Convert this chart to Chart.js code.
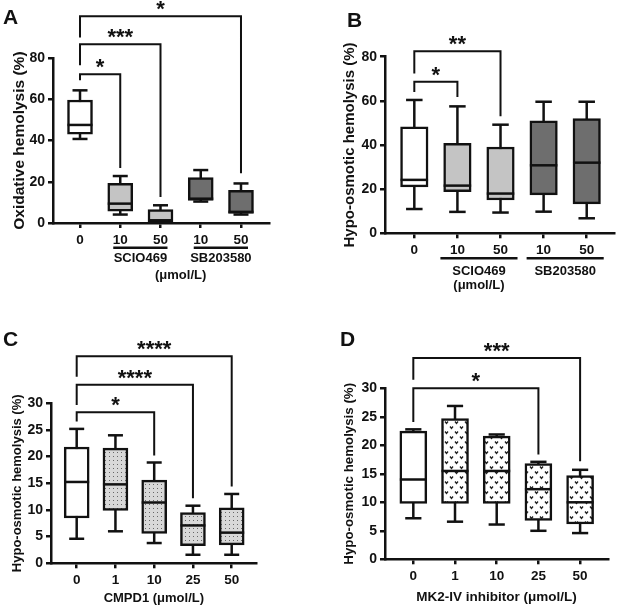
<!DOCTYPE html>
<html>
<head>
<meta charset="utf-8">
<script src="https://cdn.jsdelivr.net/npm/chart.js@4.4.1/dist/chart.umd.min.js"></script>
<style>
  body { margin: 0; background: #fff; width: 618px; height: 606px; position: relative; overflow: hidden; }
  canvas { position: absolute; }
</style>
</head>
<body>
<canvas id="cA" width="309" height="295" style="left:0;top:0"></canvas>
<canvas id="cB" width="309" height="295" style="left:309px;top:0"></canvas>
<canvas id="cC" width="309" height="311" style="left:0;top:295px"></canvas>
<canvas id="cD" width="309" height="311" style="left:309px;top:295px"></canvas>
<script>
// ---- data ----
const catsA = ['0', '10', '50', '10', '50'];
const maxA = [64.4, 22.8, 8.6, 25.7, 19.2];
const q3A = [59.7, 19.2, 6.5, 22.0, 15.9];
const medA = [47.6, 9.4, 1.3, 11.8, 5.4];
const q1A = [43.1, 5.7, 0.6, 11.0, 4.7];
const minA = [40.8, 4.1, 0.3, 10.4, 4.1];
const ticksA = [0, 20, 40, 60, 80];
const sigA = [
  { to: 1, y: 72.2, left: 69.3, right: 26.7, text: '*' },
  { to: 2, y: 86.8, left: 76.6, right: 12.6, text: '***' },
  { to: 4, y: 100.4, left: 90, right: 24.2, text: '*' }
];
const groupsA = [{ from: 1, to: 2, text: 'SCIO469' }, { from: 3, to: 4, text: 'SB203580' }];

const catsB = ['0', '10', '50', '10', '50'];
const maxB = [60.4, 57.5, 49.2, 59.6, 59.6];
const q3B = [48.2, 40.8, 39.1, 51.0, 52.0];
const medB = [24.2, 21.6, 18.0, 30.8, 32.0];
const q1B = [21.0, 18.9, 15.1, 17.4, 13.3];
const minB = [11.0, 9.7, 9.4, 9.8, 6.8];
const ticksB = [0, 20, 40, 60, 80];
const sigB = [
  { to: 1, y: 68.6, left: 64, right: 61.8, text: '*' },
  { to: 2, y: 82.5, left: 72.4, right: 53, text: '**' }
];
const groupsB = [{ from: 1, to: 2, text: 'SCIO469' }, { from: 3, to: 4, text: 'SB203580' }];

const catsC = ['0', '1', '10', '25', '50'];
const maxC = [25.2, 24.0, 18.9, 10.8, 13.0];
const q3C = [21.8, 21.6, 15.6, 9.5, 10.4];
const medC = [15.25, 14.8, 11.4, 7.1, 5.75];
const q1C = [8.5, 9.9, 5.6, 3.3, 3.45];
const minC = [4.6, 6.0, 3.8, 1.6, 1.6];
const ticksC = [0, 5, 10, 15, 20, 25, 30];
const sigC = [
  { to: 2, y: 28.3, left: 26.6, right: 20.2, text: '*' },
  { to: 3, y: 33.5, left: 29.7, right: 12.2, text: '****' },
  { to: 4, y: 38.8, left: 35, right: 14.4, text: '****' }
];

const catsD = ['0', '1', '10', '25', '50'];
const maxD = [22.8, 26.9, 21.9, 17.1, 15.7];
const q3D = [22.5, 24.7, 21.6, 16.8, 14.7];
const medD = [14.0, 15.5, 15.5, 12.3, 10.0];
const q1D = [9.8, 9.8, 9.8, 6.8, 6.2];
const minD = [7.2, 6.6, 6.1, 5.0, 4.6];
const ticksD = [0, 5, 10, 15, 20, 25, 30];
const sigD = [
  { to: 3, y: 30, left: 24.1, right: 18.4, text: '*' },
  { to: 4, y: 35.3, left: 31.5, right: 17.2, text: '***' }
];

// ---- styling ----
const INK = '#111';
const FONT = "'Liberation Sans', Arial, sans-serif";
const LIGHT = '#c4c4c4';
const DARK = '#6e6e6e';

function dotPattern() {
  const c = document.createElement('canvas');
  c.width = 4; c.height = 4;
  const g = c.getContext('2d');
  g.fillStyle = '#d8d8d8';
  g.fillRect(0, 0, 4, 4);
  g.fillStyle = '#666';
  g.fillRect(1, 1, 1, 1);
  return g.createPattern(c, 'repeat');
}

function vPattern() {
  const c = document.createElement('canvas');
  c.width = 10; c.height = 10;
  const g = c.getContext('2d');
  g.fillStyle = '#fff';
  g.fillRect(0, 0, 10, 10);
  g.strokeStyle = '#222';
  g.lineWidth = 1.3;
  [[1, 1.5], [6, 6.5]].forEach(([x, y]) => {
    g.beginPath();
    g.moveTo(x, y); g.lineTo(x + 1.5, y + 2); g.lineTo(x + 3, y);
    g.stroke();
  });
  return g.createPattern(c, 'repeat');
}

function line(ctx, x1, y1, x2, y2) {
  ctx.beginPath();
  ctx.moveTo(x1, y1);
  ctx.lineTo(x2, y2);
  ctx.stroke();
}

function boxPlugin(p) {
  return {
    id: 'box' + p.letter,
    beforeDatasetsDraw(chart) {
      const { ctx, scales: { x, y } } = chart;
      ctx.save();
      ctx.strokeStyle = INK;
      ctx.lineWidth = 2.5;
      p.med.forEach((_, i) => {
        const cx = x.getPixelForValue(i), cw = p.box * 0.3;
        const top = y.getPixelForValue(p.max[i]), bot = y.getPixelForValue(p.min[i]);
        line(ctx, cx, top, cx, bot);
        line(ctx, cx - cw, top, cx + cw, top);
        line(ctx, cx - cw, bot, cx + cw, bot);
      });
      ctx.restore();
    },
    afterDatasetsDraw(chart) {
      const { ctx, scales: { x, y } } = chart;
      ctx.save();
      ctx.strokeStyle = INK;
      ctx.lineWidth = 2.5;
      p.med.forEach((m, i) => {
        const cx = x.getPixelForValue(i), my = y.getPixelForValue(m);
        line(ctx, cx - p.box / 2, my, cx + p.box / 2, my);
      });
      ctx.restore();
    },
    afterDraw(chart) {
      const { ctx, scales: { x, y }, chartArea } = chart;
      ctx.save();
      ctx.strokeStyle = INK;
      ctx.fillStyle = INK;
      // significance brackets
      ctx.lineWidth = 2;
      p.sig.forEach(b => {
        const xl = x.getPixelForValue(0), xr = x.getPixelForValue(b.to);
        const yt = y.getPixelForValue(b.y);
        ctx.beginPath();
        ctx.moveTo(xl, y.getPixelForValue(b.left));
        ctx.lineTo(xl, yt);
        ctx.lineTo(xr, yt);
        ctx.lineTo(xr, y.getPixelForValue(b.right));
        ctx.stroke();
        ctx.font = 'bold 22px ' + FONT;
        ctx.textAlign = 'center';
        ctx.textBaseline = 'alphabetic';
        ctx.fillText(b.text, (xl + xr) / 2, yt);
      });
      // grouped x labels
      if (p.groups) {
        const base = chartArea.bottom;
        ctx.lineWidth = 2.5;
        ctx.font = 'bold 13px ' + FONT;
        ctx.textAlign = 'center';
        ctx.textBaseline = 'middle';
        p.groups.forEach(g => {
          const x1 = x.getPixelForValue(g.from), x2 = x.getPixelForValue(g.to);
          line(ctx, x1 - p.gExt, base + p.gLine, x2 + p.gExt, base + p.gLine);
          ctx.fillText(g.text, (x1 + x2) / 2, base + p.gText);
        });
        ctx.fillText('(\u03bcmol/L)', x.getPixelForValue(p.unitAt), base + p.gUnit);
      }
      // panel letter
      ctx.font = 'bold 21px ' + FONT;
      ctx.textAlign = 'left';
      ctx.textBaseline = 'alphabetic';
      ctx.fillText(p.letter, p.lx, p.ly);
      ctx.restore();
    }
  };
}

function panel(id, p) {
  const tickFont = { family: FONT, weight: 'bold', size: 14 };
  new Chart(document.getElementById(id), {
    type: 'bar',
    data: {
      datasets: [{
        data: p.cats.map((c, i) => ({ x: i, y: [p.q1[i], p.q3[i]] })),
        backgroundColor: p.fills,
        borderColor: INK,
        borderWidth: 2.5,
        borderSkipped: false,
        barThickness: p.box,
        grouped: false
      }]
    },
    options: {
      responsive: false,
      animation: false,
      devicePixelRatio: 1,
      layout: { padding: { top: p.top, right: p.right, left: 0, bottom: 0 } },
      plugins: { legend: { display: false }, tooltip: { enabled: false } },
      scales: {
        x: {
          type: 'linear',
          offset: false,
          min: p.xmin,
          max: p.xmax,
          afterBuildTicks: s => { s.ticks = p.cats.map((c, i) => ({ value: i })); },
          afterFit: s => { s.height = p.xh; },
          ticks: {
            callback: v => p.cats[v],
            font: { family: FONT, weight: 'bold', size: 13.5 },
            color: INK,
            padding: 4,
            autoSkip: false,
            maxRotation: 0
          },
          grid: { drawOnChartArea: false, offset: false, tickLength: 5, lineWidth: 2.5, color: INK },
          border: { color: INK, width: 2.5 },
          title: p.xtitle ? {
            display: true,
            text: p.xtitle,
            font: { family: FONT, weight: 'bold', size: p.xtSize },
            color: INK,
            padding: { top: 0, bottom: p.xtPad }
          } : { display: false }
        },
        y: {
          min: 0,
          max: p.ticks[p.ticks.length - 1],
          afterBuildTicks: s => { s.ticks = p.ticks.map(v => ({ value: v })); },
          afterFit: s => { s.width = p.yw; },
          ticks: { font: tickFont, color: INK, padding: 3 },
          grid: { drawOnChartArea: false, tickLength: 5, lineWidth: 2.5, color: INK },
          border: { color: INK, width: 2.5 },
          title: {
            display: true,
            text: p.ytitle,
            font: { family: FONT, weight: 'bold', size: p.ytSize },
            color: INK,
            padding: { top: p.ytPad, bottom: 0 }
          }
        }
      }
    },
    plugins: [boxPlugin(p)]
  });
}

const dots = dotPattern();
const vees = vPattern();

panel('cA', {
  letter: 'A', lx: 3, ly: 24,
  cats: catsA, max: maxA, q3: q3A, med: medA, q1: q1A, min: minA, ticks: ticksA, sig: sigA,
  groups: groupsA, unitAt: 2.5, gExt: 7, gLine: 24.7, gText: 35.5, gUnit: 52,
  fills: ['#ffffff', LIGHT, LIGHT, DARK, DARK],
  box: 25, top: 58.2, right: 40, xh: 72, yw: 53, xmin: -0.671, xmax: 4.696,
  ytitle: 'Oxidative hemolysis (%)', ytSize: 15.5, ytPad: 10.7
});

panel('cB', {
  letter: 'B', lx: 38, ly: 27,
  cats: catsB, max: maxB, q3: q3B, med: medB, q1: q1B, min: minB, ticks: ticksB, sig: sigB,
  groups: groupsB, unitAt: 1.5, gExt: 17, gLine: 25, gText: 38.4, gUnit: 52,
  fills: ['#ffffff', LIGHT, LIGHT, DARK, DARK],
  box: 27.5, top: 56.7, right: 4, xh: 61.7, yw: 76, xmin: -0.68, xmax: 4.633,
  ytitle: 'Hypo-osmotic hemolysis (%)', ytSize: 15, ytPad: 31.7
});

panel('cC', {
  letter: 'C', lx: 3, ly: 51,
  cats: catsC, max: maxC, q3: q3C, med: medC, q1: q1C, min: minC, ticks: ticksC, sig: sigC,
  fills: ['#ffffff', dots, dots, dots, dots],
  box: 25, top: 108.3, right: 52.3, xh: 42.7, yw: 51, xmin: -0.663, xmax: 4.645,
  ytitle: 'Hypo-osmotic hemolysis (%)', ytSize: 13, ytPad: 9.2,
  xtitle: 'CMPD1 (\u03bcmol/L)', xtSize: 13, xtPad: 0.2
});

panel('cD', {
  letter: 'D', lx: 31, ly: 51,
  cats: catsD, max: maxD, q3: q3D, med: medD, q1: q1D, min: minD, ticks: ticksD, sig: sigD,
  fills: ['#ffffff', vees, vees, vees, vees],
  box: 27, top: 93.3, right: 10, xh: 46.7, yw: 76, xmin: -0.679, xmax: 4.669,
  ytitle: 'Hypo-osmotic hemolysis (%)', ytSize: 13.3, ytPad: 32.7,
  xtitle: 'MK2-IV inhibitor (\u03bcmol/L)', xtSize: 13.5, xtPad: 0.9
});
</script>
</body>
</html>
